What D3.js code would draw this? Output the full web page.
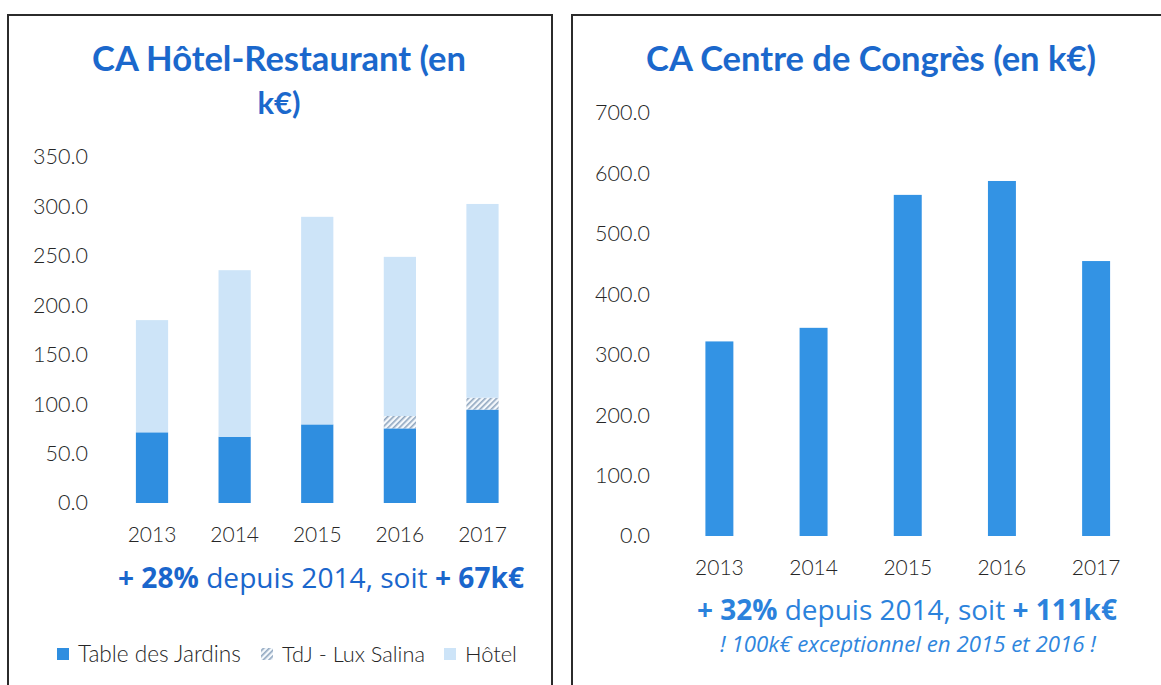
<!DOCTYPE html>
<html lang="fr">
<head>
<meta charset="UTF-8">
<title>CA Hôtel-Restaurant et Centre de Congrès</title>
<script src="https://cdn.jsdelivr.net/npm/d3@7"></script>
<style>
  html, body { margin: 0; padding: 0; background: #fff; }
  svg { display: block; }
</style>
</head>
<body>
<svg id="chart" width="1161" height="685"></svg>
<script>
// ---- data (k€) ----
const years = ["2013", "2014", "2015", "2016", "2017"];
const tableJardins = [71.5, 67, 79.5, 75.5, 94.5];
const tdjLuxSalina = [0, 0, 0, 12.5, 12];
const hotel = [113.5, 168.5, 210, 161, 196];
const congres = [322, 344.5, 564.5, 587.5, 455];
const hrTicks = [0, 50, 100, 150, 200, 250, 300, 350];
const ccTicks = [0, 100, 200, 300, 400, 500, 600, 700];
const seriesNames = ["Table des Jardins", "TdJ - Lux Salina", "Hôtel"];

const darkBlue = "#2f8ee0", lightBlue = "#cde4f8", titleBlue = "#1b68cc";
const tickFont = "Lato, 'Open Sans', sans-serif";
const tickColor = "#262626";
const fmt = d3.format(".1f");

const svg = d3.select("#chart");

// hatch pattern for TdJ - Lux Salina
const defs = svg.append("defs");
const pat = defs.append("pattern")
    .attr("id", "hatch").attr("patternUnits", "userSpaceOnUse")
    .attr("width", 4).attr("height", 4)
    .attr("patternTransform", "rotate(45)");
pat.append("rect").attr("width", 4).attr("height", 4).attr("fill", "#f4f8fc");
pat.append("rect").attr("width", 1.6).attr("height", 4).attr("fill", "#8fa6bf");

// fit a text element to a target width by tuning font-size
function fitWidth(sel, w) {
    const node = sel.node();
    const fs = parseFloat(sel.attr("font-size"));
    const len = node.getComputedTextLength();
    if (len > 0) sel.attr("font-size", (fs * w / len).toFixed(2));
    return sel;
}

// panel frames
svg.append("rect").attr("x", 8).attr("y", 15).attr("width", 544).attr("height", 700)
    .attr("fill", "none").attr("stroke", "#2b2b2b").attr("stroke-width", 2);
svg.append("rect").attr("x", 572).attr("y", 15).attr("width", 620).attr("height", 700)
    .attr("fill", "none").attr("stroke", "#2b2b2b").attr("stroke-width", 2);

// ================= left : Hôtel-Restaurant =================
const left = svg.append("g");

fitWidth(left.append("text").attr("x", 279).attr("y", 71).attr("text-anchor", "middle")
    .attr("font-family", "Lato, 'Open Sans', sans-serif").attr("font-weight", 700)
    .attr("font-size", 30).attr("fill", titleBlue).text("CA Hôtel-Restaurant (en"), 374);
left.append("text").attr("x", 279).attr("y", 114).attr("text-anchor", "middle")
    .attr("font-family", "Lato, 'Open Sans', sans-serif").attr("font-weight", 700)
    .attr("font-size", 31).attr("fill", titleBlue).text("k€)");

const xL = d3.scaleBand().domain(years).range([110.7, 523.8])
    .paddingInner(0.61).paddingOuter(0.305);
const yL = d3.scaleLinear().domain([0, 350]).range([503, 157]);

const rows = years.map((y, i) => ({
    year: y, "Table des Jardins": tableJardins[i],
    "TdJ - Lux Salina": tdjLuxSalina[i], "Hôtel": hotel[i]
}));
const stacked = d3.stack().keys(seriesNames)(rows);
const fills = { "Table des Jardins": darkBlue, "TdJ - Lux Salina": "url(#hatch)", "Hôtel": lightBlue };

left.selectAll("g.layer").data(stacked).join("g").attr("class", "layer")
    .attr("fill", d => fills[d.key])
    .selectAll("rect").data(d => d).join("rect")
    .attr("x", d => xL(d.data.year)).attr("width", xL.bandwidth())
    .attr("y", d => yL(d[1])).attr("height", d => yL(d[0]) - yL(d[1]));

const axL = left.append("g").attr("transform", "translate(88,0)")
    .call(d3.axisLeft(yL).tickValues(hrTicks).tickFormat(fmt).tickSize(0).tickPadding(0));
axL.select(".domain").remove();
axL.selectAll("text").attr("font-family", tickFont).attr("font-weight", 300)
    .attr("font-size", 21.5).attr("fill", tickColor);

const axLx = left.append("g").attr("transform", "translate(0,527)")
    .call(d3.axisBottom(xL).tickSize(0).tickPadding(0));
axLx.select(".domain").remove();
axLx.selectAll("text").attr("font-family", tickFont).attr("font-weight", 300)
    .attr("font-size", 21).attr("fill", tickColor).attr("dy", "0.71em");

const subL = left.append("text").attr("x", 321).attr("y", 588).attr("text-anchor", "middle")
    .attr("font-family", "'Open Sans', sans-serif").attr("font-size", 22).attr("fill", "#1a66cc");
subL.append("tspan").attr("font-weight", 700).text("+ 28%");
subL.append("tspan").text(" depuis 2014, soit ");
subL.append("tspan").attr("font-weight", 700).text("+ 67k€");
fitWidth(subL, 406);

// legend
const legend = left.append("g").attr("font-family", tickFont).attr("font-weight", 300)
    .attr("fill", tickColor);
const legX = [57, 261, 444];
const legW = [163, 143, 52];
const legFill = [darkBlue, "url(#hatch)", lightBlue];
seriesNames.forEach((name, i) => {
    legend.append("rect").attr("x", legX[i]).attr("y", 648).attr("width", 12).attr("height", 12)
        .attr("fill", legFill[i]);
    fitWidth(legend.append("text").attr("x", legX[i] + 21).attr("y", 662)
        .attr("font-size", 20).text(name), legW[i]);
});

// ================= right : Centre de Congrès =================
const right = svg.append("g");

fitWidth(right.append("text").attr("x", 871).attr("y", 71).attr("text-anchor", "middle")
    .attr("font-family", "Lato, 'Open Sans', sans-serif").attr("font-weight", 700)
    .attr("font-size", 30).attr("fill", titleBlue).text("CA Centre de Congrès (en k€)"), 450);

const xR = d3.scaleBand().domain(years).range([672.3, 1143.2])
    .paddingInner(0.703).paddingOuter(0.3515);
const yR = d3.scaleLinear().domain([0, 700]).range([536, 113]);

right.selectAll("rect.bar").data(congres).join("rect").attr("class", "bar")
    .attr("x", (d, i) => xR(years[i])).attr("width", xR.bandwidth())
    .attr("y", d => yR(d)).attr("height", d => yR(0) - yR(d))
    .attr("fill", "#3393e4");

const axR = right.append("g").attr("transform", "translate(650,0)")
    .call(d3.axisLeft(yR).tickValues(ccTicks).tickFormat(fmt).tickSize(0).tickPadding(0));
axR.select(".domain").remove();
axR.selectAll("text").attr("font-family", tickFont).attr("font-weight", 300)
    .attr("font-size", 21.5).attr("fill", tickColor);

const axRx = right.append("g").attr("transform", "translate(0,560)")
    .call(d3.axisBottom(xR).tickSize(0).tickPadding(0));
axRx.select(".domain").remove();
axRx.selectAll("text").attr("font-family", tickFont).attr("font-weight", 300)
    .attr("font-size", 21).attr("fill", tickColor).attr("dy", "0.71em");

const subR = right.append("text").attr("x", 907).attr("y", 620).attr("text-anchor", "middle")
    .attr("font-family", "'Open Sans', sans-serif").attr("font-size", 22).attr("fill", "#2b82dc");
subR.append("tspan").attr("font-weight", 700).text("+ 32%");
subR.append("tspan").text(" depuis 2014, soit ");
subR.append("tspan").attr("font-weight", 700).text("+ 111k€");
fitWidth(subR, 420);

fitWidth(right.append("text").attr("x", 908).attr("y", 652).attr("text-anchor", "middle")
    .attr("font-family", "'Open Sans', sans-serif").attr("font-style", "italic")
    .attr("font-size", 16).attr("fill", "#2f86de")
    .text("! 100k€ exceptionnel en 2015 et 2016 !"), 376);
</script>
</body>
</html>
